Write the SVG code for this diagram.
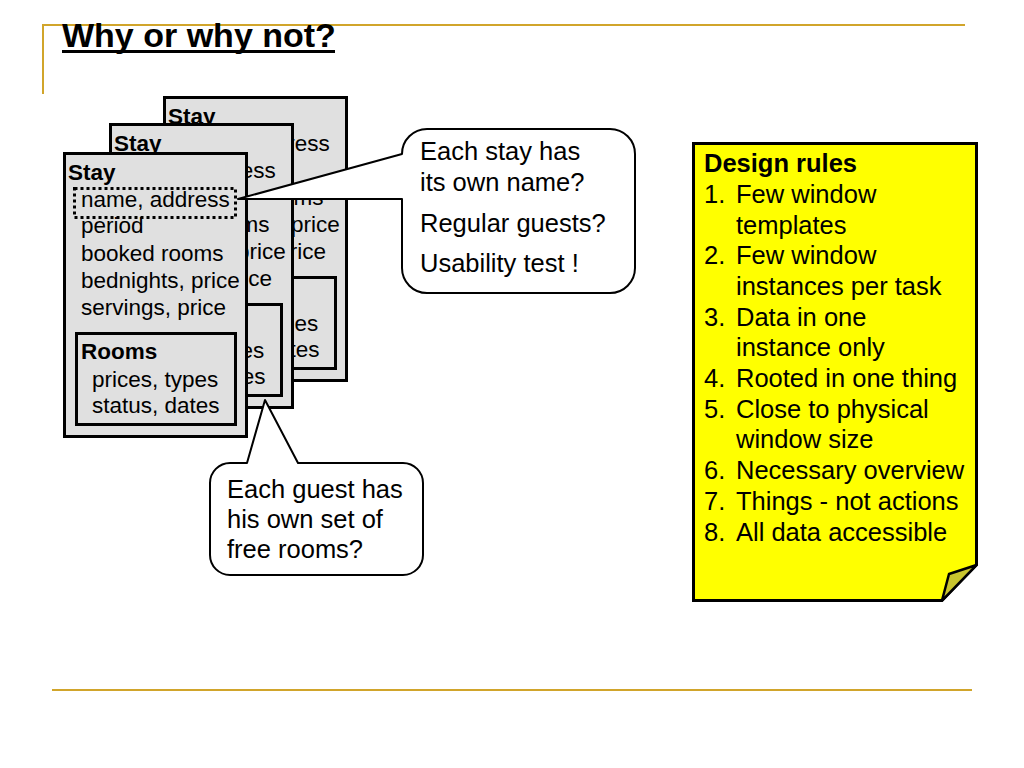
<svg xmlns="http://www.w3.org/2000/svg" xmlns:xlink="http://www.w3.org/1999/xlink" width="1024" height="768" viewBox="0 0 1024 768">
<style>
.t{font-family:"Liberation Sans",Arial,sans-serif;fill:#000}
.card{font-size:22.5px}
.big{font-size:25.5px}
.b{font-weight:bold}
.frame{fill:#e0e0e0;stroke:#000;stroke-width:3}
.gold{stroke:#d1a52b;stroke-width:2;fill:none}
.bubble{fill:#fff;stroke:#000;stroke-width:2;stroke-linejoin:round}
</style>
<defs>
<g id="stayCard">
<rect class="frame" x="64.5" y="153.5" width="182" height="283"/>
<text class="t card b" x="68" y="180">Stay</text>
<text class="t card" x="81" y="207">name, address</text>
<text class="t card" x="81" y="233">period</text>
<text class="t card" x="81" y="261">booked rooms</text>
<text class="t card" x="81" y="288">bednights, price</text>
<text class="t card" x="81" y="315">servings, price</text>
<rect class="frame" x="76.5" y="333.5" width="159" height="91"/>
<text class="t card b" x="81" y="359">Rooms</text>
<text class="t card" x="92" y="387">prices, types</text>
<text class="t card" x="92" y="413">status, dates</text>
</g>
</defs>
<rect width="1024" height="768" fill="#fff"/>
<g id="page-lines">
<path class="gold" d="M42,25 H965 M43,25 V94"/>
<path class="gold" d="M52,690 H972"/>
</g>
<g id="title">
<text class="t b" x="62" y="47" font-size="34">Why or why not?</text>
<line x1="62" y1="51.5" x2="335" y2="51.5" stroke="#000" stroke-width="3"/>
</g>
<g id="stay-back"><use xlink:href="#stayCard" transform="translate(100,-56)"/></g>
<g id="stay-middle"><use xlink:href="#stayCard" transform="translate(46,-29)"/></g>
<g id="stay-front">
<use xlink:href="#stayCard"/>
<rect x="74.5" y="188.5" width="161" height="29" fill="none" stroke="#000" stroke-width="3" stroke-dasharray="3 3"/>
</g>
<g id="connectors">
<path id="callout-name" class="bubble" d="M238,199 L402,154 A25,25 0 0 1 427,129 H610 A25,25 0 0 1 635,154 V268 A25,25 0 0 1 610,293 H427 A25,25 0 0 1 402,268 V199 Z"/>
<path id="callout-guest" class="bubble" d="M265,400 L298,463 H403 A20,20 0 0 1 423,483 V555 A20,20 0 0 1 403,575 H230 A20,20 0 0 1 210,555 V483 A20,20 0 0 1 230,463 H247 Z"/>
</g>
<g id="callout-name-text">
<text class="t big" x="420" y="160">Each stay has</text>
<text class="t big" x="420" y="191">its own name?</text>
<text class="t big" x="420" y="232">Regular guests?</text>
<text class="t big" x="420" y="272">Usability test !</text>
</g>
<g id="callout-guest-text">
<text class="t big" x="227" y="498">Each guest has</text>
<text class="t big" x="227" y="528">his own set of</text>
<text class="t big" x="227" y="558">free rooms?</text>
</g>
<g id="design-rules">
<path d="M693.5,143.5 H976.5 V565 L942,600.5 H693.5 Z" fill="#ffff00" stroke="#000" stroke-width="3" stroke-linejoin="miter"/>
<path d="M942,600.5 L949,574 L976.5,565 Z" fill="#c9c52e" stroke="#000" stroke-width="2.5" stroke-linejoin="round"/>
<text class="t big b" x="704" y="172">Design rules</text>
<g class="t big">
<text x="704" y="203">1.</text><text x="736" y="203">Few window</text>
<text x="736" y="233.5">templates</text>
<text x="704" y="264">2.</text><text x="736" y="264">Few window</text>
<text x="736" y="295">instances per task</text>
<text x="704" y="325.5">3.</text><text x="736" y="325.5">Data in one</text>
<text x="736" y="356">instance only</text>
<text x="704" y="387">4.</text><text x="736" y="387">Rooted in one thing</text>
<text x="704" y="417.5">5.</text><text x="736" y="417.5">Close to physical</text>
<text x="736" y="448">window size</text>
<text x="704" y="479">6.</text><text x="736" y="479">Necessary overview</text>
<text x="704" y="510">7.</text><text x="736" y="510">Things - not actions</text>
<text x="704" y="540.5">8.</text><text x="736" y="540.5">All data accessible</text>
</g>
</g>
</svg>
